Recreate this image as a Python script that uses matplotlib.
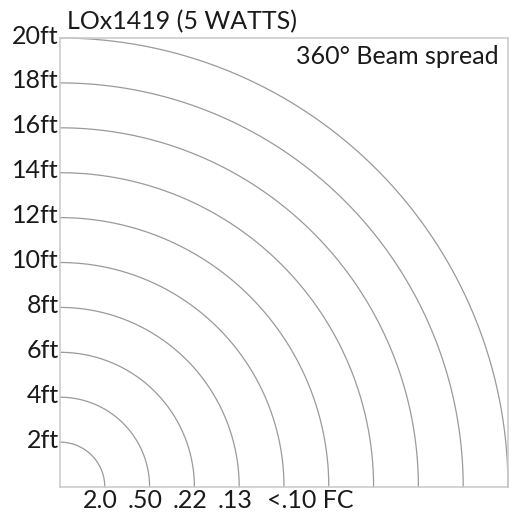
import numpy as np
import matplotlib
matplotlib.use("Agg")
import matplotlib.pyplot as plt

# ------------------------------------------------------------------------------------------
# chart data
radii_ft = [2, 4, 6, 8, 10, 12, 14, 16, 18, 20]
radius_labels = ["2ft", "4ft", "6ft", "8ft", "10ft", "12ft", "14ft", "16ft", "18ft", "20ft"]
fc_positions = [2, 4, 6, 8]
fc_labels = ["2.0", ".50", ".22", ".13"]
fc_last_label = "<.10 FC"
title = "LOx1419 (5 WATTS)"
beam_text = "360° Beam spread"

# ------------------------------------------------------------------------------------------
plt.rcParams['font.family'] = ['Lato', 'DejaVu Sans']
text_color = "#1a1a1a"
fs = 18

fig = plt.figure(figsize=(5.11, 5.14), dpi=100)
ax = fig.add_axes([60 / 511, 27 / 514, 448 / 511, 449 / 514])
ax.set_xlim(0, 20)
ax.set_ylim(0, 20)

# quarter circles
theta = np.linspace(0, np.pi / 2, 300)
for r in radii_ft:
    ax.plot(r * np.cos(theta), r * np.sin(theta), color="#9a9a9a", lw=0.9, clip_on=False)

for sp in ax.spines.values():
    sp.set_color("#cccccc")
    sp.set_linewidth(1.2)
ax.set_xticks([])
ax.set_yticks([])

# left labels
for r, lab in zip(radii_ft, radius_labels):
    ax.annotate(lab, xy=(0, r), xytext=(-1, -4), textcoords="offset points",
                ha="right", va="baseline", fontsize=fs, color=text_color)

# bottom labels
for x, lab in zip(fc_positions, fc_labels):
    ax.annotate(lab, xy=(x, 0), xytext=(-3, -15), textcoords="offset points",
                ha="center", va="baseline", fontsize=fs, color=text_color)
ax.annotate(fc_last_label, xy=(9.24, 0), xytext=(0, -15), textcoords="offset points",
            ha="left", va="baseline", fontsize=fs, color=text_color)

# titles
ax.annotate(title, xy=(0, 20), xytext=(5, 6), textcoords="offset points",
            ha="left", va="baseline", fontsize=fs, color=text_color)
ax.annotate(beam_text, xy=(20, 20), xytext=(-7, -19), textcoords="offset points",
            ha="right", va="baseline", fontsize=fs, color=text_color)

fig.savefig("out.png", dpi=100, facecolor="white")
